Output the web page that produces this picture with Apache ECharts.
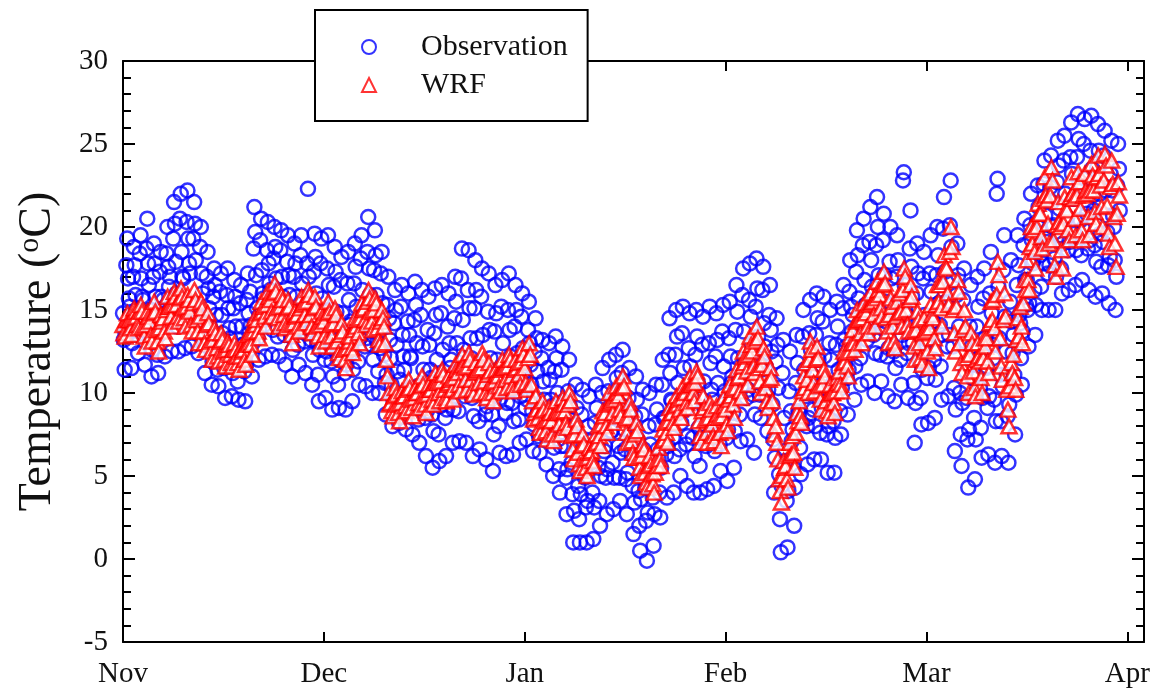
<!DOCTYPE html>
<html>
<head>
<meta charset="utf-8">
<script src="https://cdn.jsdelivr.net/npm/echarts@6/dist/echarts.min.js"></script>
<style>
	html, body { margin: 0; padding: 0; background: #fff; }
	#chart { width: 1159px; height: 695px; }
</style>
</head>
<body>
<div id="chart"></div>
<script>
// month tick labels, every month is 30 units wide on the x axis
const monthLabels = ['Nov', 'Dec', 'Jan', 'Feb', 'Mar', 'Apr']
const yTicks = [-5, 0, 5, 10, 15, 20, 25, 30]

// observation, one row per day: values at 0, 3, 6, 9, 12, 15, 18, 21 h
const obsHours = [0, 3, 6, 9, 12, 15, 18, 21]
const obsNov = [
	[14.8,13.2,11.4,13.6,17.7,19.3,16.9,15.7],[15.2,13.7,11.5,13.0,17.0,18.8,17.7,15.9],[15.0,13.5,12.4,14.6,18.4,19.5,16.9,15.8],
	[15.6,13.8,11.7,14.2,18.7,20.5,17.8,16.5],[15.0,13.4,11.0,12.6,17.0,19.0,17.8,15.8],[13.9,12.3,11.2,13.5,17.3,18.5,15.8,14.7],
	[15.6,14.0,12.2,14.4,18.4,20.0,17.6,16.4],[17.0,15.2,12.5,14.3,19.3,21.5,20.2,17.9],[16.0,14.0,12.5,15.5,20.5,22.0,18.5,17.0],
	[16.9,14.9,12.7,15.4,20.3,22.2,19.3,17.8],[17.2,15.4,12.8,14.5,19.3,21.5,20.2,18.0],[15.2,13.6,12.4,14.8,18.8,20.0,17.2,16.0],
	[14.4,12.9,11.2,13.3,17.0,18.5,16.3,15.1],[14.0,12.6,10.5,11.9,15.8,17.5,16.5,14.7],[12.9,11.4,10.4,12.5,16.1,17.2,14.7,13.6],
	[13.1,11.5,9.7,11.9,15.9,17.5,15.1,13.9],[13.3,11.9,9.8,11.2,15.1,16.8,15.8,14.0],[12.1,10.7,9.6,11.8,15.4,16.5,14.0,12.9],
	[12.9,11.3,9.5,11.7,15.6,17.2,14.8,13.6],[16.1,14.1,11.0,13.0,18.7,21.2,19.7,17.1],[15.1,13.3,12.0,14.7,19.2,20.5,17.4,16.0],
	[15.7,14.1,12.2,14.5,18.6,20.3,17.8,16.6],[16.2,14.6,12.3,13.8,18.1,20.0,18.8,16.9],[15.0,13.4,12.2,14.6,18.6,19.8,17.0,15.8],
	[15.1,13.5,11.7,13.9,17.9,19.5,17.1,15.9],[15.0,13.4,11.0,12.6,17.0,19.0,17.8,15.8],[14.6,12.9,11.7,14.2,18.3,19.5,16.6,15.4],
	[14.8,13.1,11.2,13.6,17.8,22.3,17.0,15.7],[15.1,13.2,10.5,12.3,17.3,19.6,18.2,16.0],[13.1,11.1,9.5,12.6,17.8,19.3,15.7,14.2]
]
const obsDec = [
	[14.0,12.0,9.7,12.5,17.5,19.5,16.5,15.0],[13.9,11.9,9.0,11.0,16.4,18.8,17.3,14.9],[12.4,10.5,9.1,12.0,16.8,18.2,14.8,13.4],
	[13.2,11.2,9.0,11.7,16.6,18.5,15.6,14.1],[14.3,12.4,9.5,11.4,16.6,19.0,17.6,15.2],[13.8,11.9,10.5,13.3,18.1,19.5,16.2,14.8],
	[14.9,12.8,10.4,13.3,18.5,20.6,17.5,15.9],[14.9,12.9,10.0,12.0,17.4,19.8,18.3,15.9],[13.1,11.3,10.0,12.7,17.2,18.5,15.4,14.0],
	[12.3,10.6,8.7,11.1,15.3,17.0,14.5,13.2],[12.1,10.5,8.0,9.6,14.2,16.2,15.0,12.9],[11.3,9.5,8.2,10.8,15.2,16.5,13.5,12.2],
	[11.4,9.7,7.8,10.1,14.3,16.0,13.5,12.2],[12.1,10.3,7.5,9.3,14.4,16.7,15.3,13.0],[10.4,8.4,7.0,9.9,14.7,16.2,12.8,11.4],
	[10.4,8.5,6.2,8.9,13.8,15.8,12.9,11.4],[10.9,8.7,5.5,7.7,13.6,16.3,14.7,12.0],[9.8,7.5,5.9,9.2,14.8,16.5,12.6,10.9],
	[10.5,8.5,6.2,9.0,14.0,16.0,13.0,11.5],[12.0,10.0,7.0,9.0,14.5,17.0,15.5,13.0],[11.4,8.9,7.1,10.8,16.9,18.7,14.4,12.6],
	[12.1,9.8,7.0,10.3,16.2,18.6,15.1,13.3],[12.1,9.7,6.2,8.6,15.1,18.0,16.2,13.3],[10.6,8.3,6.6,10.0,15.8,17.5,13.5,11.8],
	[10.9,8.7,6.0,9.2,14.9,17.2,13.8,12.1],[10.9,8.7,5.3,7.5,13.7,16.5,14.8,12.0],[10.2,8.0,6.4,9.7,15.2,16.8,13.0,11.3],
	[11.0,8.8,6.2,9.4,15.0,17.2,13.8,12.2],[11.4,9.4,6.3,8.3,14.0,16.5,15.0,12.4],[10.3,8.4,7.0,9.8,14.6,16.0,12.7,11.3]
]
const obsJan = [
	[10.8,9.1,7.2,9.6,13.8,15.5,13.0,11.7],[10.5,8.9,6.5,8.1,12.5,14.5,13.3,11.3],[8.9,7.4,6.4,8.5,12.1,13.2,10.7,9.6],
	[8.9,7.4,5.7,7.8,11.5,13.0,10.8,9.6],[9.2,7.5,5.0,6.7,11.3,13.4,12.1,10.0],[7.2,5.4,4.0,6.8,11.4,12.8,9.5,8.2],
	[6.8,4.9,2.7,5.4,10.1,12.0,9.2,7.7],[5.8,3.9,1.0,2.9,8.1,10.5,9.1,6.7],[4.4,2.4,1.0,3.9,8.7,10.2,6.8,5.4],
	[4.9,3.1,1.0,3.5,8.0,9.8,7.1,5.8],[5.9,4.0,1.2,3.1,8.2,10.5,9.1,6.8],[5.5,3.5,2.0,5.0,10.0,11.5,8.0,6.5],
	[6.8,4.9,2.7,5.4,10.1,12.0,9.2,7.7],[7.7,5.8,3.0,4.9,10.0,12.3,10.9,8.6],[6.8,4.9,3.5,6.4,11.2,12.6,9.2,7.8],
	[6.6,4.8,2.7,5.2,9.7,11.5,8.8,7.5],[6.3,4.4,1.5,3.4,8.6,11.0,9.6,7.2],[4.1,2.0,0.5,3.6,8.7,10.2,6.6,5.1],
	[4.3,2.3,-0.1,2.8,8.0,10.0,6.9,5.4],[5.7,3.7,0.8,2.7,8.1,10.5,9.0,6.6],[6.0,4.0,2.5,5.5,10.5,12.0,8.5,7.0],
	[8.5,6.3,3.7,6.8,12.3,14.5,11.2,9.6],[9.5,7.3,4.0,6.2,12.3,15.0,13.4,10.6],[8.8,6.6,5.0,8.2,13.6,15.2,11.5,9.9],
	[9.0,6.9,4.4,7.4,12.7,14.8,11.6,10.0],[9.5,7.3,4.0,6.2,12.3,15.0,13.4,10.6],[7.9,5.6,4.0,7.3,12.9,14.6,10.7,9.0],
	[9.0,6.8,4.2,7.4,13.0,15.2,11.8,10.2],[9.6,7.5,4.4,6.5,12.2,14.8,13.2,10.6],[9.0,6.9,5.3,8.5,13.7,15.3,11.6,10.1]
]
const obsFeb = [
	[9.5,7.3,4.7,7.8,13.3,15.5,12.2,10.6],[11.0,8.8,5.5,7.7,13.8,16.5,14.9,12.1],[10.9,8.7,7.1,10.4,15.9,17.5,13.7,12.0],
	[11.9,9.7,7.2,10.2,15.6,17.8,14.6,12.9],[12.3,9.9,6.4,8.7,15.2,18.1,16.3,13.4],[11.8,9.9,8.5,11.4,16.2,17.6,14.2,12.8],
	[11.6,9.8,7.7,10.2,14.7,16.5,13.8,12.5],[9.3,7.2,4.0,6.1,11.9,14.5,12.9,10.3],[5.1,2.4,0.4,4.4,11.2,13.2,8.5,6.5],
	[5.9,3.5,0.7,4.1,10.1,12.5,8.9,7.1],[7.8,5.5,2.0,4.3,10.6,13.5,11.8,8.9],[8.8,6.7,5.1,8.2,13.4,15.0,11.4,9.8],
	[10.0,8.0,5.7,8.5,13.6,15.6,12.6,11.1],[11.0,9.0,6.0,8.0,13.5,16.0,14.5,12.0],[9.6,7.6,6.0,9.1,14.3,15.8,12.2,10.7],
	[9.5,7.5,5.2,8.0,13.0,15.0,12.0,10.5],[10.4,8.3,5.2,7.3,12.9,15.5,14.0,11.4],[10.8,8.9,7.5,10.3,15.1,16.5,13.2,11.8],
	[12.8,10.9,8.7,11.4,16.1,18.0,15.2,13.7],[14.7,12.7,9.6,11.6,17.3,19.8,18.3,15.7],[14.2,12.1,10.5,13.7,18.9,20.5,16.8,15.3],
	[15.3,13.2,10.7,13.7,19.1,21.2,18.0,16.4],[15.9,13.5,10.0,12.4,18.9,21.8,20.0,17.1],[14.4,12.3,10.7,13.9,19.2,20.8,17.1,15.5],
	[14.3,12.2,9.8,12.7,17.9,20.0,16.9,15.3],[14.5,12.5,9.5,11.5,17.0,19.5,18.0,15.5],[14.0,12.0,10.5,13.5,22.8,23.3,16.5,15.0],
	[14.7,12.4,9.7,13.0,18.7,21.0,17.6,15.8],[13.0,10.6,7.0,9.4,16.0,19.0,17.2,14.2],[11.9,9.7,8.1,11.4,16.9,18.5,14.7,13.0]
]
const obsMar = [
	[13.2,10.9,8.2,11.5,17.2,19.5,16.1,14.3],[14.3,12.0,8.5,10.8,17.1,20.0,18.3,15.4],[14.1,11.6,9.6,13.5,19.9,21.8,17.3,15.4],
	[15.5,12.8,9.8,13.5,20.1,22.8,18.8,16.8],[12.8,10.3,6.5,9.0,15.9,19.0,17.1,14.0],[10.0,7.5,5.6,9.4,15.6,17.5,13.1,11.3],
	[9.7,7.2,4.3,7.8,14.0,16.5,12.8,10.9],[10.9,8.5,4.8,7.2,14.0,17.0,15.2,12.1],[10.3,7.9,6.1,9.7,15.7,17.5,13.3,11.5],
	[11.6,9.1,6.3,9.8,16.0,18.5,14.8,12.9],[12.1,9.6,5.8,8.3,22.0,22.9,16.4,13.3],[11.1,8.3,6.2,10.4,17.4,19.5,14.6,12.5],
	[11.1,8.6,5.8,9.3,15.5,18.0,14.3,12.4],[13.5,11.1,7.5,9.9,16.5,19.5,17.7,14.7],[14.2,12.1,10.5,13.7,18.9,20.5,16.8,15.3],
	[16.8,15.0,12.8,15.4,20.1,22.0,19.2,17.8],[18.0,16.2,13.5,15.3,20.3,22.5,21.2,18.9],[18.3,16.4,15.0,17.8,22.6,24.0,20.7,19.3],
	[19.1,17.2,15.0,17.7,22.4,24.3,21.5,20.0],[20.1,18.1,15.0,17.0,22.7,25.2,23.7,21.1],[19.5,17.5,16.0,19.0,24.0,25.5,22.0,20.5],
	[20.6,18.6,16.2,19.1,24.2,26.3,23.2,21.7],[21.7,19.6,16.5,18.6,24.2,26.8,25.3,22.7],[20.4,18.3,16.8,19.9,25.0,26.5,22.9,21.4],
	[20.8,18.7,16.2,19.2,24.6,26.7,23.5,21.9],[21.0,18.9,15.8,17.9,23.6,26.2,24.6,22.0],[19.6,17.6,16.0,19.1,24.3,25.8,22.2,20.7],
	[19.7,17.7,15.4,18.2,23.2,25.2,22.2,20.7],[20.0,18.0,15.0,17.0,22.5,25.0,23.5,21.0]
]

// WRF, one row per day: values at 0, 4, 8, 12, 16, 20 h
const wrfHours = [0, 4, 8, 12, 16, 20]
const wrfNov = [
	[14.1,13.6,13.4,14.4,14.8,14.4],[14.4,13.9,13.5,14.5,15.1,14.9],[14.6,14.1,13.9,14.9,15.3,14.9],[14.0,13.4,12.8,14.1,14.9,14.6],
	[14.3,13.5,13.1,14.8,15.5,14.9],[13.8,13.1,12.5,13.9,14.7,14.3],[14.5,13.7,13.3,15.0,15.8,15.2],[15.2,14.6,14.0,15.3,16.1,15.8],
	[15.3,14.6,14.3,15.7,16.3,15.8],[15.1,14.5,14.0,15.2,15.9,15.6],[14.9,14.1,13.7,15.4,16.2,15.6],[14.4,13.7,13.0,14.6,15.5,15.1],
	[13.7,13.0,12.6,14.1,14.8,14.2],[13.1,12.5,12.0,13.2,13.9,13.6],[12.7,12.2,11.9,13.1,13.6,13.2],[12.5,12.0,11.6,12.6,13.1,12.9],
	[12.3,11.8,11.6,12.6,13.0,12.6],[12.2,11.8,11.4,12.2,12.7,12.5],[12.6,12.0,11.7,12.9,13.5,13.0],[13.6,12.9,12.3,13.7,14.5,14.1],
	[14.4,13.7,13.3,14.8,15.5,14.9],[15.2,14.6,14.0,15.3,16.1,15.8],[15.6,14.9,14.6,16.0,16.6,16.1],[15.1,14.5,14.0,15.2,15.9,15.6],
	[14.7,14.2,13.9,15.1,15.6,15.2],[14.1,13.5,13.0,14.2,14.9,14.6],[14.7,14.0,13.7,15.1,15.8,15.3],[15.4,14.7,14.2,15.5,16.2,15.9],
	[14.7,14.0,13.6,15.1,15.8,15.2],[14.0,13.4,12.8,14.1,14.9,14.6]
]
const wrfDec = [
	[14.3,13.5,13.1,14.8,15.5,14.9],[14.1,13.4,12.8,14.2,15.1,14.7],[13.1,12.4,12.1,13.5,14.2,13.7],[12.6,12.0,11.5,12.7,13.4,13.1],
	[13.4,12.7,12.4,13.8,14.5,14.0],[14.4,13.6,13.0,14.5,15.4,15.0],[15.1,14.4,14.1,15.5,16.2,15.7],[14.9,14.3,13.8,15.0,15.7,15.4],
	[13.9,13.2,12.9,14.3,15.0,14.5],[14.0,13.0,12.0,11.0,10.0,9.3],[9.4,8.9,8.6,9.8,10.3,9.9],[9.3,8.8,8.3,9.4,10.1,9.8],
	[9.8,9.2,8.9,10.2,10.8,10.3],[9.6,9.1,8.6,9.7,10.3,10.0],[10.0,9.4,9.1,10.4,11.0,10.5],[9.8,9.3,8.8,9.9,10.5,10.2],
	[10.2,9.6,9.3,10.6,11.2,10.7],[10.6,10.0,9.5,10.7,11.4,11.1],[10.2,9.7,9.5,10.5,11.0,10.6],[10.8,10.2,9.6,10.9,11.7,11.4],
	[11.2,10.5,10.1,11.6,12.3,11.7],[11.5,10.8,10.2,11.6,12.4,12.0],[10.8,10.2,9.9,11.2,11.8,11.3],[11.4,10.6,10.0,11.5,12.4,12.0],
	[10.7,10.0,9.7,11.1,11.8,11.3],[10.6,10.0,9.5,10.7,11.4,11.1],[11.0,10.4,10.1,11.4,12.0,11.5],[11.5,10.8,10.3,11.6,12.3,12.0],
	[11.0,10.4,10.1,11.4,12.0,11.5],[11.8,11.1,10.5,11.9,12.7,12.3]
]
const wrfJan = [
	[11.5,10.6,10.2,12.1,13.0,12.3],[10.5,9.5,8.4,8.8,9.8,9.0],[8.5,7.9,7.6,8.9,9.5,9.0],[8.3,7.7,7.2,8.4,9.1,8.8],
	[8.3,7.5,7.1,8.8,9.5,8.9],[8.8,8.1,7.5,8.9,9.7,9.3],[8.9,8.2,7.9,9.3,10.0,9.5],[7.4,6.6,6.0,7.5,8.4,8.0],
	[6.4,5.7,5.3,6.8,7.5,6.9],[6.0,5.5,5.0,6.1,6.7,6.4],[6.5,5.9,5.6,6.9,7.5,7.0],[8.0,7.4,6.8,8.1,8.9,8.6],
	[8.8,8.0,7.6,9.3,10.0,9.4],[9.5,8.8,8.2,9.6,10.4,10.0],[9.8,9.0,8.6,10.3,11.0,10.4],[8.4,7.6,7.0,8.5,9.4,9.0],
	[7.1,6.4,6.1,7.5,8.2,7.7],[6.1,5.5,5.0,6.2,6.9,6.6],[5.2,4.6,4.3,5.6,6.2,5.7],[5.1,4.5,4.0,5.2,5.9,5.6],
	[6.7,6.0,5.6,7.1,7.8,7.2],[8.2,7.6,7.0,8.3,9.1,8.8],[8.8,8.2,7.9,9.2,9.8,9.3],[9.6,9.0,8.5,9.7,10.4,10.1],
	[10.0,9.4,9.1,10.4,11.0,10.5],[10.5,10.0,9.5,10.6,11.3,11.0],[8.3,7.4,7.0,8.9,9.8,9.1],[8.4,7.6,7.0,8.5,9.4,9.0],
	[8.1,7.4,7.1,8.5,9.2,8.7],[8.5,7.6,6.8,8.6,9.7,9.2]
]
const wrfFeb = [
	[9.0,8.1,7.7,9.6,10.5,9.8],[10.2,9.3,8.5,10.3,11.4,10.9],[11.0,10.1,9.7,11.6,12.5,11.8],[12.2,11.3,10.5,12.3,13.4,12.9],
	[12.5,11.6,11.2,13.1,14.0,13.3],[11.5,10.7,10.0,11.7,12.7,12.2],[10.3,9.5,9.1,10.8,11.5,10.9],[9.5,8.5,7.5,8.0,7.0,6.0],
	[4.8,4.1,3.4,5.0,5.9,5.5],[5.6,4.8,4.3,6.2,7.0,6.3],[7.4,6.4,5.5,7.6,8.8,8.3],[9.5,8.6,8.2,10.1,11.0,10.3],
	[11.8,10.8,10.0,12.0,13.1,12.6],[11.4,10.6,10.1,12.0,12.8,12.1],[10.4,9.6,9.0,10.5,11.4,11.0],[9.5,8.9,8.6,9.9,10.5,10.0],
	[10.0,9.4,8.8,10.1,10.9,10.6],[11.3,10.5,10.1,11.8,12.5,11.9],[12.4,11.6,11.0,12.5,13.4,13.0],[13.8,13.0,12.6,14.3,15.0,14.4],
	[14.4,13.6,13.0,14.5,15.4,15.0],[14.8,14.0,13.6,15.3,16.0,15.4],[15.5,14.7,14.0,15.7,16.7,16.2],[15.9,15.1,14.6,16.5,17.3,16.6],
	[14.5,13.7,13.0,14.7,15.7,15.2],[14.0,13.1,12.7,14.6,15.5,14.8],[16.0,14.9,14.0,16.2,17.5,17.0],[15.0,14.1,13.7,15.6,16.5,15.8],
	[13.7,12.8,12.0,13.8,14.9,14.4],[13.0,12.1,11.7,13.6,14.5,13.8]
]
const wrfMar = [
	[13.7,12.5,11.5,13.9,15.3,14.7],[14.5,13.3,12.7,15.3,16.5,15.5],[16.5,15.1,14.0,16.7,18.3,17.6],[17.5,16.0,15.3,18.5,20.0,18.8],
	[15.0,13.6,12.5,15.2,16.8,16.1],[13.0,11.8,11.2,13.8,15.0,14.0],[12.1,11.0,10.0,12.3,13.6,13.0],[11.3,10.3,9.8,12.0,13.0,12.2],
	[11.9,10.9,10.0,12.1,13.3,12.8],[13.3,11.9,11.2,14.2,15.5,14.4],[15.6,13.9,12.5,15.9,17.9,17.1],[13.3,11.6,10.8,14.4,16.0,14.6],
	[10.2,9.0,8.0,10.4,11.8,11.2],[12.3,10.9,10.2,13.2,14.5,13.4],[15.2,14.0,13.0,15.4,16.8,16.2],[18.0,16.8,16.2,18.8,20.0,19.0],
	[19.8,18.5,17.5,20.0,21.4,20.8],[20.8,19.4,18.7,21.7,23.0,21.9],[21.6,20.2,19.0,21.9,23.6,22.8],[19.2,17.7,17.0,20.1,21.5,20.3],
	[20.0,18.6,17.5,20.2,21.8,21.1],[21.0,19.8,19.2,21.8,23.0,22.0],[21.7,20.5,19.5,21.9,23.3,22.7],[21.1,19.8,19.2,21.9,23.2,22.2],
	[22.0,20.6,19.5,22.2,23.8,23.1],[22.2,20.9,20.2,23.0,24.3,23.2],[22.5,21.2,20.0,22.8,24.4,23.7],[21.3,19.6,18.8,22.4,24.0,22.6],
	[20.6,19.0,17.6,20.8,22.7,21.9]
]

const font = 'Liberation Serif'

function buildPoints(months, hours) {
	const pts = []
	months.forEach(function(days, m) {
		days.forEach(function(vals, d) {
			vals.forEach(function(v, i) {
				pts.push([m * 30 + d + hours[i] / 24, v])
			})
		})
	})
	return pts
}

const obsData = buildPoints([obsNov, obsDec, obsJan, obsFeb, obsMar], obsHours)
const wrfData = buildPoints([wrfNov, wrfDec, wrfJan, wrfFeb, wrfMar], wrfHours)

const myChart = echarts.init(document.getElementById('chart'))

const xCommon = {
	type: 'value',
	min: 0,
	max: 152.5,
	interval: 30,
	splitLine: { show: false },
	axisLine: { show: true, onZero: false, lineStyle: { color: '#000', width: 2 } },
	axisTick: { show: true, inside: true, length: 10, lineStyle: { color: '#000', width: 2 } }
}
const yCommon = {
	type: 'value',
	min: yTicks[0],
	max: yTicks[yTicks.length - 1],
	interval: 5,
	splitLine: { show: false },
	axisLine: { show: true, onZero: false, lineStyle: { color: '#000', width: 2 } },
	axisTick: { show: true, inside: true, length: 12, lineStyle: { color: '#000', width: 2 } },
	minorTick: { show: true, splitNumber: 5, length: 8, lineStyle: { color: '#000', width: 2 } }
}

myChart.setOption({
	backgroundColor: '#fff',
	animation: false,
	grid: { left: 123, right: 15, top: 61, bottom: 53 },
	legend: {
		orient: 'vertical',
		left: 315,
		top: 10,
		backgroundColor: '#fff',
		borderColor: '#000',
		borderWidth: 2,
		borderRadius: 0,
		padding: [22, 20, 21, 46],
		itemGap: 8,
		itemWidth: 14,
		itemHeight: 14,
		textStyle: { fontFamily: font, fontSize: 30, color: '#111', lineHeight: 30, padding: [0, 0, 0, 40] },
		data: ['Observation', 'WRF']
	},
	xAxis: [
		Object.assign({}, xCommon, {
			position: 'bottom',
			axisLabel: {
				show: true,
				margin: 18,
				fontFamily: font,
				fontSize: 29,
				color: '#111',
				formatter: function(v) {
					return v % 30 === 0 ? monthLabels[v / 30] : ''
				}
			}
		}),
		Object.assign({}, xCommon, { position: 'top', axisLabel: { show: false } })
	],
	yAxis: [
		Object.assign({}, yCommon, {
			position: 'left',
			name: 'Temperature ({sup|o}C)',
			nameLocation: 'middle',
			nameGap: 62,
			nameTextStyle: {
				fontFamily: font,
				fontSize: 46,
				color: '#111',
				rich: { sup: { fontFamily: font, fontSize: 30, color: '#111', verticalAlign: 'top', padding: [0, 0, 16, 0] } }
			},
			axisLabel: { show: true, margin: 15, fontFamily: font, fontSize: 29, color: '#111' }
		}),
		Object.assign({}, yCommon, { position: 'right', axisLabel: { show: false } })
	],
	series: [
		{
			name: 'Observation',
			type: 'scatter',
			symbol: 'circle',
			symbolSize: 14,
			itemStyle: { color: 'rgba(0,0,0,0)', borderColor: '#0000ff', borderWidth: 2.5 },
			data: obsData
		},
		{
			name: 'WRF',
			type: 'scatter',
			symbol: 'triangle',
			symbolSize: [15, 14],
			itemStyle: { color: '#fff', borderColor: '#ff0000', borderWidth: 2.5 },
			data: wrfData
		}
	]
})
window.addEventListener('resize', function() {
	myChart.resize()
})
</script>
</body>
</html>
